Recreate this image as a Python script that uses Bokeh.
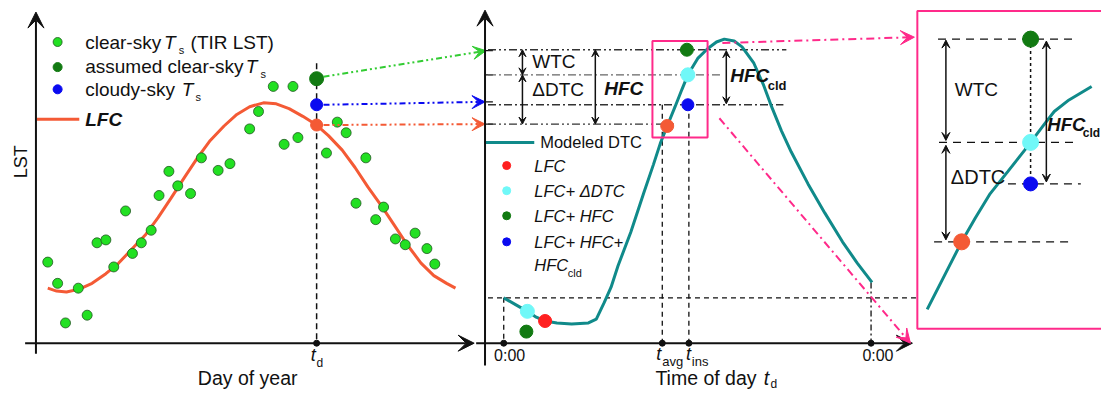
from bokeh.plotting import figure
from bokeh.models import Range1d, Arrow, VeeHead
from bokeh.core.properties import value
from bokeh.embed import file_html
from bokeh.resources import INLINE
import math

FONT = "Liberation Sans"

# ---------------- data (schematic, in reference pixel units) ----------------
# Left panel: clear-sky Ts observations
clear_x = [48, 58, 66, 79, 88, 98, 107, 115, 127, 134, 143, 153, 161, 171, 180, 193,
           204, 221, 233, 253, 262, 277, 288, 297, 302, 331, 342, 351, 361, 371, 381,
           389, 401, 411, 421, 433, 441]
clear_y = [271, 293, 334, 298, 326, 251, 248, 276, 218, 262, 251, 238, 202, 177, 192, 200,
           163, 176, 169, 133, 115, 89, 149, 89, 142, 158, 126, 137, 210, 163, 227,
           214, 247, 253, 241, 257, 273]
# Left panel: LFC curve
lfc_x = [48, 57, 67, 80, 93, 107, 120, 133, 147, 160, 173, 187, 200, 213, 227, 240, 253,
         267, 280, 293, 307, 321, 333, 347, 360, 373, 387, 400, 413, 427, 440, 453, 462]
lfc_y = [298, 301, 302, 299, 293, 283, 272, 258, 243, 225, 205, 183, 163, 145, 130, 118, 110,
         106, 107, 112, 120, 129, 140, 155, 173, 193, 213, 233, 253, 272, 285, 293, 298]
td_x = 321
td_pts_y = [81, 108, 129]          # assumed clear, cloudy, LFC at t_d

# Middle panel: modeled DTC
dtc_x = [511, 523, 535, 544, 553, 565, 580, 597, 605, 613, 620, 627, 640, 653, 663, 670,
         677, 685, 692, 698, 708, 718, 727, 735, 745, 753, 765, 775, 783, 793, 803, 820,
         837, 855, 870, 885]
dtc_y = [308, 315, 322, 328, 332, 334, 335, 334, 330, 313, 297, 275, 240, 200, 170, 148,
         130, 110, 92, 77, 60, 50, 43, 40, 42, 48, 65, 88, 110, 135, 157, 190,
         220, 250, 272, 292]
lvl_hfc, lvl_dtc, lvl_cld, lvl_lfc = 51, 77, 108, 128
t_avg, t_ins, t0, t24 = 672, 699, 511, 884

# Right panel: zoomed DTC
zoom_x = [941, 955, 966, 976, 990, 1005, 1023, 1040, 1046, 1060, 1070, 1085, 1108]
zoom_y = [320, 292, 270, 250, 225, 200, 177, 155, 147, 128, 115, 103, 89]
z_lvls = [40, 147, 190, 250]

# colours
C_GREEN = "#22E022"
C_DGREEN = "#127A12"
C_BLUE = "#0A0AF0"
C_ORANGE = "#F45A35"
C_RED = "#FF2020"
C_CYAN = "#70F8F8"
C_TEAL = "#108A8A"
C_MAG = "#FF2A8A"
C_LGREEN = "#33CC33"
INK = "#111111"

p = figure(width=1101, height=390, x_range=Range1d(0, 1118), y_range=Range1d(404, 0),
           output_backend="svg", toolbar_location=None, min_border=0)
p.axis.visible = False
p.grid.visible = False
p.outline_line_color = None
p.background_fill_color = "white"
p.border_fill_color = "white"


def txt(x, y, s, size, style="normal", align="left", angle=0.0, color=INK):
    p.text(x=[x], y=[y], text=[s], text_font=value(FONT), text_font_size=f"{size}px",
           text_font_style=style, text_align=align, text_baseline="middle",
           angle=angle, text_color=color)


def arrow(x0, y0, x1, y1, color=INK, width=2.0, dash="solid", size=14, start=False):
    kw = {}
    if start:
        kw["start"] = VeeHead(size=size, fill_color=color, line_color=color, line_width=1)
    p.add_layout(Arrow(end=VeeHead(size=size, fill_color=color, line_color=color, line_width=1),
                       x_start=x0, y_start=y0, x_end=x1, y_end=y1,
                       line_color=color, line_width=width, line_dash=dash, **kw))


# ---------------- left panel ----------------
arrow(36, 366, 36, 12, size=16)
arrow(25, 355, 481, 355, size=16)
p.line([td_x, td_x], [65, 355], line_color=INK, line_width=1.5, line_dash="6 4")
p.line(lfc_x, lfc_y, line_color=C_ORANGE, line_width=3)
p.scatter(clear_x, clear_y, size=10, fill_color=C_GREEN, line_color="#225522", line_width=0.8)
p.scatter([td_x], [td_pts_y[0]], size=14, fill_color=C_DGREEN, line_color=C_DGREEN)
p.scatter([td_x], [td_pts_y[1]], size=12, fill_color=C_BLUE, line_color=C_BLUE)
p.scatter([td_x], [td_pts_y[2]], size=12, fill_color=C_ORANGE, line_color=C_ORANGE)
p.scatter([td_x], [355], size=6, fill_color=INK, line_color=INK)

# legend left
p.scatter([58], [43], size=9, fill_color=C_GREEN, line_color="#225522", line_width=0.8)
p.scatter([58], [69], size=9, fill_color=C_DGREEN, line_color=C_DGREEN)
p.scatter([58], [92], size=9, fill_color=C_BLUE, line_color=C_BLUE)
p.line([37, 80], [123, 123], line_color=C_ORANGE, line_width=3)
txt(86, 43, "clear-sky", 19)
txt(166, 43, "T", 19, "italic")
txt(181, 51, "s", 11)
txt(193, 43, "(TIR LST)", 19)
txt(86, 68, "assumed clear-sky", 19)
txt(249, 68, "T", 19, "italic")
txt(264, 76, "s", 11)
txt(86, 92, "cloudy-sky", 19)
txt(184, 92, "T", 19, "italic")
txt(198, 100, "s", 11)
txt(86, 123, "LFC", 19, "bold italic")

txt(21, 167, "LST", 18, align="center", angle=math.pi / 2)
txt(251, 391, "Day of year", 19.5, align="center")
txt(315, 367, "t", 18, "italic")
txt(321, 376, "d", 12)

# cross-panel arrows
arrow(328, 79, 493, 52, color=C_LGREEN, width=2, dash="6 3 2 3 2 3", size=13)
arrow(328, 108, 492, 105, color=C_BLUE, width=2, dash="6 3 2 3 2 3", size=13)
arrow(328, 129, 492, 128, color=C_ORANGE, width=2, dash="6 3 2 3 2 3", size=13)

# ---------------- middle panel ----------------
arrow(492, 378, 492, 10, size=16)
arrow(483, 355, 926, 355, size=16)
for yy in [52, 77, 105, 128]:
    p.line([492, 500], [yy, yy], line_color=INK, line_width=1.2)

p.line([495, 798], [lvl_hfc, lvl_hfc], line_color="#333333", line_width=1.3, line_dash="8 3 2 3 2 3")
p.line([495, 733], [lvl_dtc, lvl_dtc], line_color="#666666", line_width=1.3, line_dash="8 3 2 3")
p.line([495, 795], [lvl_cld, lvl_cld], line_color="#333333", line_width=1.3, line_dash="8 3 2 3")
p.line([495, 686], [lvl_lfc, lvl_lfc], line_color="#333333", line_width=1.3, line_dash="8 3 2 3 2 3")
p.line([495, 930], [308, 308], line_color=INK, line_width=1.3, line_dash="5 4")
p.line([t0, t0], [308, 355], line_color=INK, line_width=1.3, line_dash="5 4")
p.line([t_avg, t_avg], [lvl_cld, 355], line_color=INK, line_width=1.3, line_dash="5 4")
p.line([t_ins, t_ins], [lvl_cld, 355], line_color=INK, line_width=1.3, line_dash="5 4")
p.line([t24, t24], [292, 355], line_color=INK, line_width=1.3, line_dash="6 3 2 3")
p.scatter([t0, t_avg, t_ins, t24], [355] * 4, size=6, fill_color=INK, line_color=INK)

p.line(dtc_x, dtc_y, line_color=C_TEAL, line_width=3)

# double arrows
arrow(530, lvl_hfc, 530, lvl_dtc, width=1.5, size=7, start=True)
arrow(530, lvl_dtc, 530, lvl_lfc, width=1.5, size=7, start=True)
arrow(604, lvl_hfc, 604, lvl_lfc, width=1.5, size=7, start=True)
arrow(737, lvl_hfc + 1, 737, lvl_cld - 1, width=1.5, size=7, start=True)

# magenta box
p.quad(left=662, right=718, top=42, bottom=142, fill_color=None, line_color=C_MAG, line_width=2)

# points
p.scatter([697], [lvl_hfc], size=13, fill_color=C_DGREEN, line_color=C_DGREEN)
p.scatter([698], [lvl_dtc], size=14, fill_color=C_CYAN, line_color=C_CYAN)
p.scatter([698], [lvl_cld], size=12, fill_color=C_BLUE, line_color=C_BLUE)
p.scatter([677], [130], size=13, fill_color=C_ORANGE, line_color=C_ORANGE)
p.scatter([535], [322], size=14, fill_color=C_CYAN, line_color=C_CYAN)
p.scatter([553], [332], size=13, fill_color=C_RED, line_color=C_RED)
p.scatter([534], [343], size=13, fill_color=C_DGREEN, line_color=C_DGREEN)

txt(540, 63, "WTC", 19)
txt(540, 92, "\u0394DTC", 19)
txt(613, 91, "HFC", 19, "bold italic")
txt(741, 78, "HFC", 19, "bold italic")
txt(779, 88, "cld", 13, "bold")

# legend middle
p.line([492, 542], [147, 147], line_color=C_TEAL, line_width=3)
txt(548, 147, "Modeled DTC", 16.5)
p.scatter([514], [171], size=8, fill_color=C_RED, line_color=C_RED)
p.scatter([514], [197], size=8, fill_color=C_CYAN, line_color=C_CYAN)
p.scatter([514], [223], size=8, fill_color=C_DGREEN, line_color=C_DGREEN)
p.scatter([514], [250], size=8, fill_color=C_BLUE, line_color=C_BLUE)
txt(542, 171, "LFC", 16.5, "italic")
txt(542, 197, "LFC+ \u0394DTC", 16.5, "italic")
txt(542, 223, "LFC+ HFC", 16.5, "italic")
txt(542, 250, "LFC+ HFC+", 16.5, "italic")
txt(542, 274, "HFC", 16.5, "italic")
txt(576, 282, "cld", 11)

txt(517, 368, "0:00", 16, align="center")
txt(891, 368, "0:00", 16, align="center")
txt(666, 366, "t", 18, "italic")
txt(672, 374, "avg", 13)
txt(696, 366, "t", 18, "italic")
txt(702, 374, "ins", 13)
txt(665, 391, "Time of day", 19.5)
txt(775, 391, "t", 19.5, "italic")
txt(782, 397, "d", 12)

# magenta pointer arrows
arrow(733, 44, 928, 38, color=C_MAG, width=2, dash="8 4 2 4", size=14)
arrow(730, 122, 924, 355, color=C_MAG, width=2, dash="8 4 2 4", size=14)

# ---------------- right panel ----------------
p.quad(left=931, right=1140, top=11, bottom=340, fill_color=None, line_color=C_MAG, line_width=2)
p.line([952, 1093], [z_lvls[0], z_lvls[0]], line_color=INK, line_width=1.4, line_dash="8 6")
p.line([953, 1095], [z_lvls[1], z_lvls[1]], line_color=INK, line_width=1.4, line_dash="8 6")
p.line([1023, 1097], [z_lvls[2], z_lvls[2]], line_color=INK, line_width=1.4, line_dash="8 6")
p.line([948, 1088], [z_lvls[3], z_lvls[3]], line_color=INK, line_width=1.4, line_dash="8 6")
p.line([1046, 1046], [z_lvls[0], z_lvls[2]], line_color=INK, line_width=1.5, line_dash="3 3")
p.line(zoom_x, zoom_y, line_color=C_TEAL, line_width=3)
arrow(960, z_lvls[0] + 1, 960, z_lvls[1] - 2, width=1.5, size=8, start=True)
arrow(960, z_lvls[1] + 3, 960, z_lvls[3] - 2, width=1.5, size=8, start=True)
arrow(1062, z_lvls[0] + 2, 1062, z_lvls[2] - 2, width=1.5, size=8, start=True)
p.scatter([1046], [z_lvls[0]], size=16, fill_color=C_DGREEN, line_color=C_DGREEN)
p.scatter([1046], [z_lvls[1]], size=16, fill_color=C_CYAN, line_color=C_CYAN)
p.scatter([1046], [z_lvls[2]], size=14, fill_color=C_BLUE, line_color=C_BLUE)
p.scatter([976], [z_lvls[3]], size=16, fill_color=C_ORANGE, line_color=C_ORANGE)
txt(969, 92, "WTC", 19)
txt(965, 183, "\u0394DTC", 20)
txt(1063, 128, "HFC", 18.5, "bold italic")
txt(1099, 137, "cld", 12, "bold")

open("out.html", "w").write(file_html(p, INLINE))
